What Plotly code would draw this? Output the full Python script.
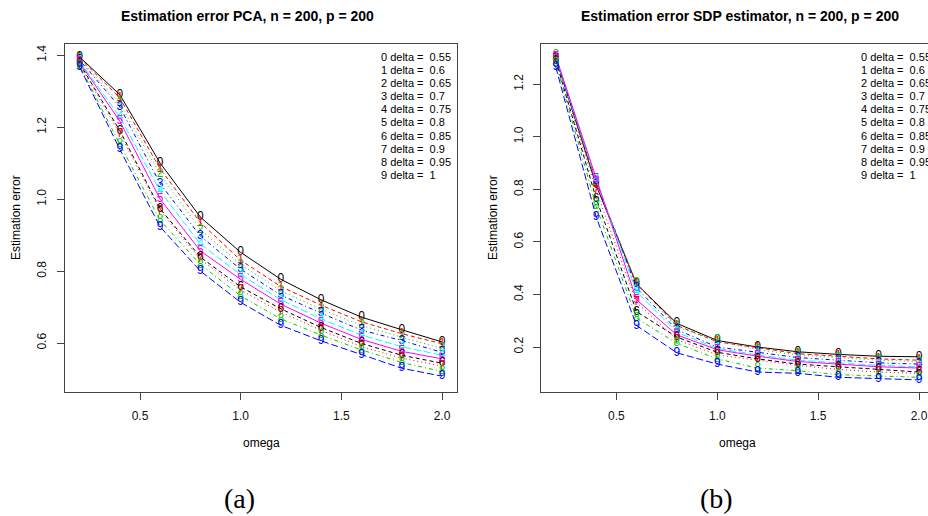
import plotly.graph_objects as go

omega = [0.2, 0.4, 0.6, 0.8, 1.0, 1.2, 1.4, 1.6, 1.8, 2.0]
deltas = ["0.55", "0.6", "0.65", "0.7", "0.75", "0.8", "0.85", "0.9", "0.95", "1"]

pca_err = [
    [1.395, 1.290, 1.100, 0.950, 0.852, 0.777, 0.720, 0.672, 0.637, 0.603],
    [1.392, 1.281, 1.084, 0.935, 0.830, 0.757, 0.705, 0.659, 0.626, 0.598],
    [1.389, 1.266, 1.069, 0.915, 0.818, 0.745, 0.694, 0.649, 0.616, 0.585],
    [1.386, 1.256, 1.043, 0.897, 0.805, 0.733, 0.683, 0.636, 0.607, 0.574],
    [1.383, 1.228, 1.022, 0.875, 0.790, 0.720, 0.667, 0.622, 0.590, 0.566],
    [1.380, 1.216, 1.000, 0.856, 0.777, 0.708, 0.655, 0.610, 0.577, 0.556],
    [1.377, 1.190, 0.973, 0.839, 0.756, 0.695, 0.643, 0.599, 0.566, 0.544],
    [1.374, 1.182, 0.968, 0.833, 0.747, 0.686, 0.635, 0.590, 0.558, 0.536],
    [1.371, 1.152, 0.941, 0.818, 0.731, 0.667, 0.622, 0.581, 0.546, 0.521],
    [1.367, 1.138, 0.923, 0.800, 0.713, 0.649, 0.606, 0.567, 0.530, 0.508],
]

sdp_err = [
    [1.300, 0.815, 0.440, 0.290, 0.225, 0.200, 0.182, 0.172, 0.165, 0.163],
    [1.305, 0.820, 0.440, 0.282, 0.220, 0.198, 0.175, 0.165, 0.155, 0.150],
    [1.310, 0.825, 0.445, 0.276, 0.225, 0.190, 0.170, 0.160, 0.150, 0.145],
    [1.300, 0.830, 0.425, 0.266, 0.200, 0.180, 0.160, 0.150, 0.140, 0.135],
    [1.300, 0.835, 0.410, 0.256, 0.195, 0.170, 0.150, 0.140, 0.130, 0.125],
    [1.305, 0.840, 0.380, 0.246, 0.190, 0.165, 0.145, 0.135, 0.125, 0.120],
    [1.290, 0.765, 0.335, 0.238, 0.180, 0.155, 0.135, 0.125, 0.115, 0.105],
    [1.295, 0.795, 0.370, 0.228, 0.170, 0.150, 0.130, 0.115, 0.105, 0.100],
    [1.280, 0.735, 0.310, 0.214, 0.155, 0.120, 0.110, 0.095, 0.090, 0.085],
    [1.265, 0.695, 0.282, 0.178, 0.135, 0.105, 0.100, 0.085, 0.080, 0.075],
]

palette = ["#000000", "#FF0000", "#00CD00", "#0000FF", "#00FFFF", "#FF00FF"]
dashes = ["solid", "4px,3px", "1px,3px", "1px,3px,4px,3px", "7px,3px"]

W, H = 928, 516
def px(x): return x / W
def py(y): return 1 - y / H

fig = go.Figure()

panels = [
    dict(data=pca_err, xa="x", ya="y"),
    dict(data=sdp_err, xa="x2", ya="y2"),
]
for p in panels:
    for i, series in enumerate(p["data"]):
        col = palette[i % 6]
        fig.add_trace(go.Scatter(
            x=omega, y=series, xaxis=p["xa"], yaxis=p["ya"],
            mode="lines+text", text=[str(i)] * len(omega),
            textposition="middle center",
            textfont=dict(family="Liberation Sans, Arial", size=12, color=col),
            line=dict(color=col, width=1, dash=dashes[i % 5]),
            showlegend=False, hoverinfo="skip", cliponaxis=False,
        ))

axis_common = dict(
    showgrid=False, zeroline=False, showline=True, linecolor="#444", linewidth=1,
    ticks="outside", ticklen=7, tickcolor="#444", tickwidth=1,
    tickfont=dict(family="Liberation Sans, Arial", size=12, color="#111"),
)

fig.update_layout(
    width=W, height=H, margin=dict(l=0, r=0, t=0, b=0),
    paper_bgcolor="white", plot_bgcolor="white",
    xaxis=dict(domain=[px(65), px(457)], range=[0.1274, 2.0745], anchor="y",
               tickvals=[0.5, 1.0, 1.5, 2.0], ticktext=["0.5", "1.0", "1.5", "2.0"],
               mirror=True, ticklabelstandoff=6, **axis_common),
    yaxis=dict(domain=[py(392), py(44)], range=[0.464, 1.431], anchor="x",
               tickvals=[0.6, 0.8, 1.0, 1.2, 1.4], ticktext=["0.6", "0.8", "1.0", "1.2", "1.4"],
               tickangle=-90, mirror=True, ticklabelstandoff=6, **axis_common),
    xaxis2=dict(domain=[px(541.3), 1.0], range=[0.128, 2.0446], anchor="y2",
                tickvals=[0.5, 1.0, 1.5, 2.0], ticktext=["0.5", "1.0", "1.5", "2.0"],
                mirror=True, ticklabelstandoff=6, **axis_common),
    yaxis2=dict(domain=[py(392), py(44)], range=[0.029, 1.353], anchor="x2",
                tickvals=[0.2, 0.4, 0.6, 0.8, 1.0, 1.2],
                ticktext=["0.2", "0.4", "0.6", "0.8", "1.0", "1.2"],
                tickangle=-90, ticklabelstandoff=6, **axis_common),
)

ann = []
sans = "Liberation Sans, Arial"
titles = [("Estimation error PCA, n = 200, p = 200", 247),
          ("Estimation error SDP estimator, n = 200, p = 200", 740)]
for t, cx in titles:
    ann.append(dict(text="<b>%s</b>" % t, x=px(cx), y=py(16), xref="paper", yref="paper",
                    showarrow=False, xanchor="center", yanchor="middle",
                    font=dict(family=sans, size=14, color="black")))
for cx in [261, 737]:
    ann.append(dict(text="omega", x=px(cx), y=py(443), xref="paper", yref="paper",
                    showarrow=False, xanchor="center", yanchor="middle",
                    font=dict(family=sans, size=12, color="black")))
for cx in [16, 493]:
    ann.append(dict(text="Estimation error", x=px(cx), y=py(218), xref="paper", yref="paper",
                    showarrow=False, xanchor="center", yanchor="middle", textangle=-90,
                    font=dict(family=sans, size=12, color="black")))
for lx in [379, 859]:
    for i, d in enumerate(deltas):
        ann.append(dict(text="%d delta =  %s" % (i, d), x=px(lx), y=py(57 + i * 13.1),
                        xref="paper", yref="paper", showarrow=False,
                        xanchor="left", yanchor="middle",
                        font=dict(family=sans, size=11, color="black")))
for t, cx in [("(a)", 239), ("(b)", 716)]:
    ann.append(dict(text=t, x=px(cx), y=py(498), xref="paper", yref="paper",
                    showarrow=False, xanchor="center", yanchor="middle",
                    font=dict(family="Liberation Serif, DejaVu Serif", size=28, color="black")))
fig.update_layout(annotations=ann)

fig.write_html("out.html", config={"displayModeBar": False},
               post_script="document.body.style.margin='0';document.body.style.overflow='hidden';")
